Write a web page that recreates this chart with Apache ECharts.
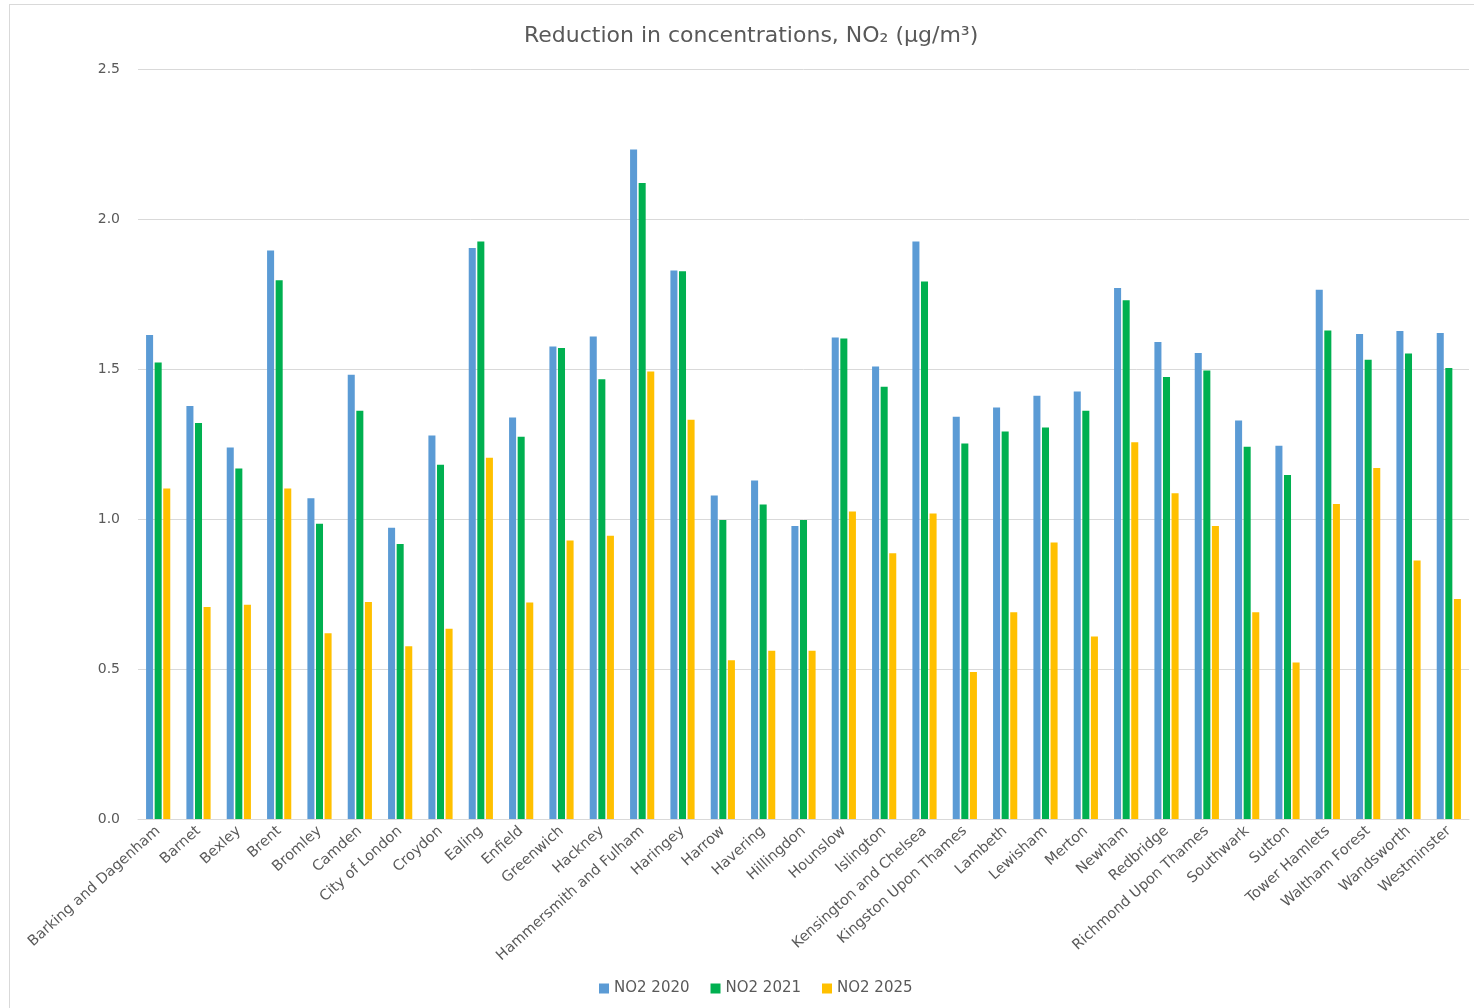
<!DOCTYPE html>
<html>
<head>
<meta charset="utf-8">
<script src="https://cdn.jsdelivr.net/npm/echarts@6/dist/echarts.min.js"></script>
<style>
  html, body { margin: 0; padding: 0; background: #fff; }
  #chart { position: absolute; left: 0; top: 0; width: 1474px; height: 1008px; }
  #frame { position: absolute; left: 9px; top: 4px; width: 1480px; height: 1020px; border: 1px solid #d9d9d9; pointer-events: none; }
</style>
</head>
<body>
<div id="chart"></div>
<div id="frame"></div>
<script>
// London boroughs
const boroughs = [
  'Barking and Dagenham', 'Barnet', 'Bexley', 'Brent', 'Bromley', 'Camden',
  'City of London', 'Croydon', 'Ealing', 'Enfield', 'Greenwich', 'Hackney',
  'Hammersmith and Fulham', 'Haringey', 'Harrow', 'Havering', 'Hillingdon',
  'Hounslow', 'Islington', 'Kensington and Chelsea', 'Kingston Upon Thames',
  'Lambeth', 'Lewisham', 'Merton', 'Newham', 'Redbridge', 'Richmond Upon Thames',
  'Southwark', 'Sutton', 'Tower Hamlets', 'Waltham Forest', 'Wandsworth', 'Westminster'
];

// Reduction in NO2 concentrations (µg/m³)
const no2_2020 = [
  1.613, 1.377, 1.238, 1.895, 1.069, 1.481, 0.971, 1.278, 1.903, 1.338, 1.575,
  1.608, 2.232, 1.828, 1.078, 1.128, 0.977, 1.605, 1.508, 1.925, 1.341, 1.372,
  1.411, 1.425, 1.770, 1.590, 1.553, 1.328, 1.244, 1.764, 1.617, 1.627, 1.620
];
const no2_2021 = [
  1.522, 1.320, 1.168, 1.796, 0.984, 1.361, 0.917, 1.181, 1.925, 1.274, 1.570,
  1.466, 2.120, 1.826, 0.997, 1.048, 0.997, 1.602, 1.441, 1.792, 1.252, 1.292,
  1.305, 1.361, 1.729, 1.473, 1.495, 1.241, 1.147, 1.628, 1.531, 1.552, 1.503
];
const no2_2025 = [
  1.102, 0.707, 0.714, 1.102, 0.619, 0.723, 0.576, 0.634, 1.204, 0.722, 0.928,
  0.944, 1.492, 1.331, 0.529, 0.561, 0.561, 1.025, 0.886, 1.018, 0.490, 0.689,
  0.922, 0.608, 1.256, 1.086, 0.977, 0.689, 0.522, 1.050, 1.170, 0.862, 0.733
];

const seriesNames = ['NO2 2020', 'NO2 2021', 'NO2 2025'];
const seriesColors = ['#5B9BD5', '#00B050', '#FFC000'];
const seriesData = [no2_2020, no2_2021, no2_2025];

const textColor = '#595959';
const font = '"DejaVu Sans", sans-serif';

const chart = echarts.init(document.getElementById('chart'), null, { renderer: 'canvas' });

chart.setOption({
  animation: false,
  backgroundColor: '#ffffff',
  title: {
    text: 'Reduction in concentrations, NO₂ (µg/m³)',
    left: 519,
    top: 20,
    textStyle: { color: textColor, fontFamily: font, fontSize: 22, fontWeight: 'normal' }
  },
  legend: {
    data: seriesNames,
    bottom: 7,
    left: 594,
    itemWidth: 10,
    itemHeight: 10,
    itemGap: 21,
    icon: 'rect',
    textStyle: { color: textColor, fontFamily: font, fontSize: 15 }
  },
  grid: { left: 138, right: 5, top: 69, bottom: 189, containLabel: false },
  xAxis: {
    type: 'category',
    data: boroughs,
    axisLine: { show: true, lineStyle: { color: '#d9d9d9', width: 1 } },
    axisTick: { show: false },
    axisLabel: {
      interval: 0,
      rotate: 42,
      color: textColor,
      fontFamily: font,
      fontSize: 14.5,
      margin: 10
    }
  },
  yAxis: {
    type: 'value',
    min: 0,
    max: 2.5,
    interval: 0.5,
    axisLine: { show: false },
    axisTick: { show: false },
    splitLine: { lineStyle: { color: '#d9d9d9', width: 1 } },
    axisLabel: {
      color: textColor,
      fontFamily: font,
      fontSize: 14,
      margin: 18,
      formatter: v => v.toFixed(1)
    }
  },
  series: seriesNames.map((name, i) => ({
    name,
    type: 'bar',
    data: seriesData[i],
    barGap: '22%',
    barCategoryGap: '40%',
    itemStyle: { color: seriesColors[i] }
  }))
});
</script>
</body>
</html>
